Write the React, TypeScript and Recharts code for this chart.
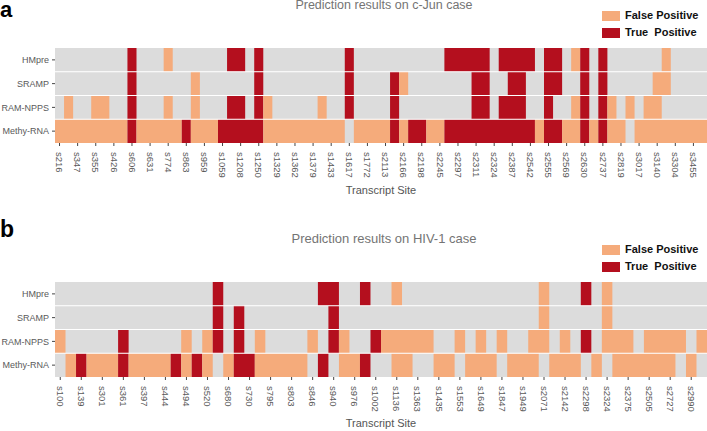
import React from "react";
import { ComposedChart, XAxis, YAxis, ReferenceArea, ReferenceLine } from "recharts";

// ---------- data ----------
const rowNames = ["HMpre", "SRAMP", "RAM-NPPS", "Methy-RNA"];

// codes per cell: 0 = no prediction, 1 = False Positive, 2 = True Positive
// (one labelled site every second column; groups of ten columns)
const cJunSites = [
  "s216", "s347", "s355", "s426", "s606", "s631", "s774", "s863", "s959", "s1059",
  "s1208", "s1250", "s1329", "s1362", "s1379", "s1433", "s1617", "s1772", "s2113", "s2166",
  "s2198", "s2245", "s2297", "s2311", "s2324", "s2387", "s2542", "s2555", "s2569", "s2630",
  "s2737", "s2819", "s3017", "s3140", "s3304", "s3455",
];
const cJunHMpre = ["0000000020", "0010000002", "2020000000", "0020000000", "0002222202", "2220220120", "2000000100", "00"].join("");
const cJunSRAMP = ["0000000020", "0000010000", "0020000000", "0020000210", "0000002200", "2200220020", "2000001100", "00"].join("");
const cJunRAM = ["0100110020", "0010010002", "2021000001", "0020000200", "0000002202", "2200200120", "2101011000", "00"].join("");
const cJunMethy = ["1111111121", "1111211122", "2221111111", "1101111212", "2112222222", "2221221121", "2110111111", "11"].join("");

const hivSites = [
  "s100", "s139", "s301", "s361", "s397", "s444", "s494", "s520", "s680", "s730",
  "s795", "s803", "s846", "s940", "s976", "s1002", "s1136", "s1363", "s1435", "s1553",
  "s1649", "s1847", "s1949", "s2071", "s2142", "s2298", "s2324", "s2375", "s2505", "s2727",
  "s2990",
];
const hivHMpre = ["0000000000", "0000020000", "0000022002", "0010000000", "0000001000", "2010000000", "00"].join("");
const hivSRAMP = ["0000000000", "0000020200", "0000002000", "0000000000", "0000001000", "0010000000", "00"].join("");
const hivRAM = ["1000002000", "0010120201", "0000102100", "2111110010", "1010011010", "2011101111", "01"].join("");
const hivMethy = ["0121112111", "1212101221", "1111020112", "0011001101", "1101110111", "0101111110", "10"].join("");

const COLORS = ["#DCDCDC", "#F5AB7B", "#B40F1E"];

// ---------- helpers ----------
type Run = { row: number; start: number; end: number; code: number };
function toRuns(rows: string[]): Run[] {
  const out: Run[] = [];
  rows.forEach((s, r) => {
    let i = 0;
    while (i < s.length) {
      const c = s[i];
      let j = i;
      while (j < s.length && s[j] === c) j++;
      if (c !== "0") out.push({ row: r, start: i, end: j, code: Number(c) });
      i = j;
    }
  });
  return out;
}

const XTick = (props: any) => {
  const { x, y, payload, labels } = props;
  const idx = Math.round((payload.value - 0.5) / 2);
  return (
    <text
      x={x}
      y={y}
      transform={`rotate(90 ${x} ${y})`}
      dx={4}
      dy="0.35em"
      textAnchor="start"
      fontSize={9.5}
      fill="#5a5a5a"
      fontFamily="Liberation Sans, Arial, sans-serif"
    >
      {labels[idx]}
    </text>
  );
};

const YTick = (props: any) => {
  const { x, y, payload } = props;
  const idx = Math.floor(payload.value);
  return (
    <text
      x={x}
      y={y}
      dy="0.35em"
      textAnchor="end"
      fontSize={9}
      fill="#5a5a5a"
      fontFamily="Liberation Sans, Arial, sans-serif"
    >
      {rowNames[idx]}
    </text>
  );
};

function Heatmap({ rows, sites, top }: { rows: string[]; sites: string[]; top: number }) {
  const n = rows[0].length;
  const ticks = sites.map((_, i) => 2 * i + 0.5);
  const runs = toRuns(rows);
  const dummy = [
    { x: 0, y: 0 },
    { x: n, y: rows.length },
  ];
  return (
    <div style={{ position: "absolute", left: 0, top, width: 707, height: 190 }}>
      <ComposedChart width={707} height={190} data={dummy} margin={{ top: 48, right: 0, bottom: 0, left: 0 }}>
        <XAxis
          type="number"
          dataKey="x"
          domain={[0, n]}
          ticks={ticks}
          interval={0}
          axisLine={false}
          tickSize={3}
          tickMargin={2}
          tickLine={{ stroke: "#444" }}
          height={47}
          tick={<XTick labels={sites} />}
          allowDataOverflow
        />
        <YAxis
          type="number"
          dataKey="y"
          domain={[0, rows.length]}
          reversed
          ticks={[0.5, 1.5, 2.5, 3.5]}
          interval={0}
          axisLine={false}
          tickSize={3}
          tickMargin={3}
          tickLine={{ stroke: "#444" }}
          width={55}
          tick={<YTick />}
          allowDataOverflow
        />
        {rows.map((_, r) => (
          <ReferenceArea
            key={"bg" + r}
            x1={0}
            x2={n}
            y1={r}
            y2={r + 1}
            fill={COLORS[0]}
            fillOpacity={1}
            stroke="none"
            ifOverflow="visible"
          />
        ))}
        {runs.map((c, k) => (
          <ReferenceArea
            key={"c" + k}
            x1={c.start}
            x2={c.end}
            y1={c.row}
            y2={c.row + 1}
            fill={COLORS[c.code]}
            fillOpacity={1}
            stroke="none"
            ifOverflow="visible"
          />
        ))}
        {[1, 2, 3].map((y) => (
          <ReferenceLine key={"l" + y} y={y} stroke="#ffffff" strokeWidth={1.2} ifOverflow="visible" />
        ))}
      </ComposedChart>
    </div>
  );
}

const textBase: React.CSSProperties = {
  position: "absolute",
  whiteSpace: "pre",
  fontFamily: "Liberation Sans, Arial, sans-serif",
  lineHeight: 1,
};

function Legend({ top }: { top: number }) {
  return (
    <>
      <div style={{ position: "absolute", left: 602, top: top, width: 18, height: 10, background: COLORS[1] }} />
      <div style={{ ...textBase, left: 625, top: top - 1, fontSize: 11, fontWeight: 700, color: "#111" }}>False Positive</div>
      <div style={{ position: "absolute", left: 602, top: top + 17, width: 18, height: 10, background: COLORS[2] }} />
      <div style={{ ...textBase, left: 625, top: top + 16, fontSize: 11, fontWeight: 700, color: "#111" }}>True  Positive</div>
    </>
  );
}

export default function App() {
  return (
    <div style={{ position: "absolute", left: 0, top: 0, width: 707, height: 431, background: "#fff", overflow: "hidden" }}>
      <Heatmap rows={[cJunHMpre, cJunSRAMP, cJunRAM, cJunMethy]} sites={cJunSites} top={0} />
      <Heatmap rows={[hivHMpre, hivSRAMP, hivRAM, hivMethy]} sites={hivSites} top={234} />

      <div style={{ ...textBase, left: 0, top: 0, fontSize: 22, lineHeight: "20px", fontWeight: 700, color: "#000" }}>a</div>
      <div style={{ ...textBase, left: 0, top: 218, fontSize: 23, fontWeight: 700, color: "#000" }}>b</div>

      <div style={{ ...textBase, left: 284, width: 200, textAlign: "center", top: 0, fontSize: 12.5, lineHeight: "11px", color: "#747474" }}>
        Prediction results on c-Jun case
      </div>
      <div style={{ ...textBase, left: 284, width: 200, textAlign: "center", top: 232, fontSize: 13, color: "#747474" }}>
        Prediction results on HIV-1 case
      </div>

      <div style={{ ...textBase, left: 331, width: 100, textAlign: "center", top: 185, fontSize: 11, color: "#555" }}>
        Transcript Site
      </div>
      <div style={{ ...textBase, left: 331, width: 100, textAlign: "center", top: 418, fontSize: 11, color: "#555" }}>
        Transcript Site
      </div>

      <Legend top={11} />
      <Legend top={245} />
    </div>
  );
}
